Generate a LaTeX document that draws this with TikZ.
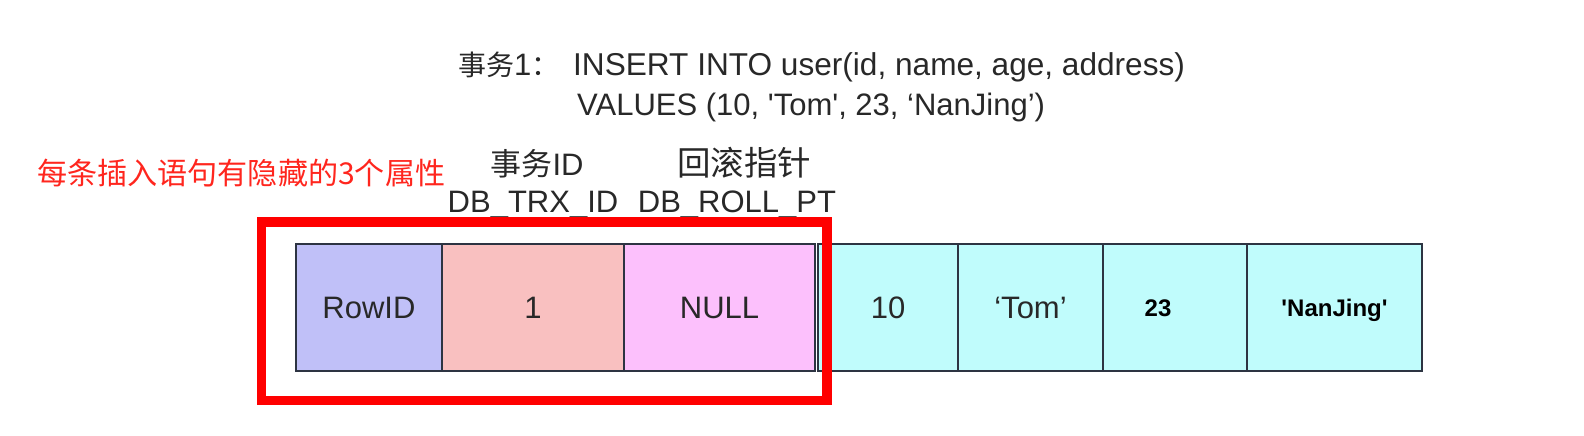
\documentclass[tikz,border=0pt]{standalone}
\usepackage{fontspec}
\setmainfont{Liberation Sans}
\newfontfamily\cjk{Noto Sans CJK SC}
\definecolor{lav}{RGB}{192,192,248}
\definecolor{salmon}{RGB}{249,192,192}
\definecolor{orchid}{RGB}{252,192,252}
\definecolor{aqua}{RGB}{192,252,252}
\definecolor{edge}{RGB}{45,52,66}
\definecolor{ink}{RGB}{40,40,40}
\definecolor{redtxt}{RGB}{255,38,30}
\begin{document}
\begin{tikzpicture}[x=1pt,y=-1pt,
  cell/.style={draw=edge, line width=1.8pt, inner sep=0pt, minimum height=127pt,
    text=ink, font=\fontsize{31pt}{31pt}\selectfont, text height=22pt, text depth=0pt},
  boldtxt/.style={inner sep=0pt, text=black, font=\fontsize{24pt}{24pt}\selectfont\bfseries,
    text height=17pt, text depth=0pt},
  lbl/.style={inner sep=0pt, anchor=base, text=ink, font=\fontsize{31pt}{31pt}\selectfont},
  ttl/.style={inner sep=0pt, anchor=base west, text=ink, font=\fontsize{31pt}{31pt}\selectfont}]
\useasboundingbox (0,0) rectangle (1584,436);

% title
\node[ttl] (t1a) at (458,75) {{\cjk\fontsize{28pt}{28pt}\selectfont 事务}1{\cjk\fontsize{28pt}{28pt}\selectfont ：}};
\node[ttl, font=\fontsize{31.6pt}{31.6pt}\selectfont] (t1b) at (573,75) {INSERT INTO user(id, name, age, address)};
\node[ttl] (t2) at (577,115) {VALUES (10, \textquotesingle Tom\textquotesingle, 23, ‘NanJing’)};

% red note
\node[inner sep=0pt, anchor=base west, text=redtxt, font=\cjk\fontsize{30.1pt}{30pt}\selectfont] (note) at (37,184) {每条插入语句有隐藏的3个属性};

% column labels
\node[lbl] (l1) at (537,175) {{\cjk 事务}ID};
\node[lbl, font=\cjk\fontsize{33.5pt}{33.5pt}\selectfont] (l2) at (744,175) {回滚指针};
\node[lbl] (l3) at (533,212) {DB\_TRX\_ID};
\node[lbl] (l4) at (737,212) {DB\_ROLL\_PT};

% cells
\node[cell, fill=lav, minimum width=146pt] (c1) at (369,307.5) {RowID};
\node[cell, fill=salmon, minimum width=182pt] (c2) at (533,307.5) {1};
\node[cell, fill=orchid, minimum width=191pt] (c3) at (719.5,307.5) {NULL};
\node[cell, fill=aqua, minimum width=140pt] (c4) at (888,307.5) {10};
\node[cell, fill=aqua, minimum width=145pt] (c5) at (1030.5,307.5) {‘Tom’};
\node[cell, fill=aqua, minimum width=144pt] (c6) at (1175,307.5) {};
\node[cell, fill=aqua, minimum width=175pt] (c7) at (1334.5,307.5) {};
\node[boldtxt] (v6) at (1158,307.5) {23};
\node[boldtxt] (v7) at (1334.5,307.5) {\textquotesingle NanJing\textquotesingle};

% red highlight box
\node[draw=red, line width=9.5pt, inner sep=0pt, minimum width=565.5pt, minimum height=178.5pt] (hl) at (544.25,311.25) {};
\end{tikzpicture}
\end{document}
